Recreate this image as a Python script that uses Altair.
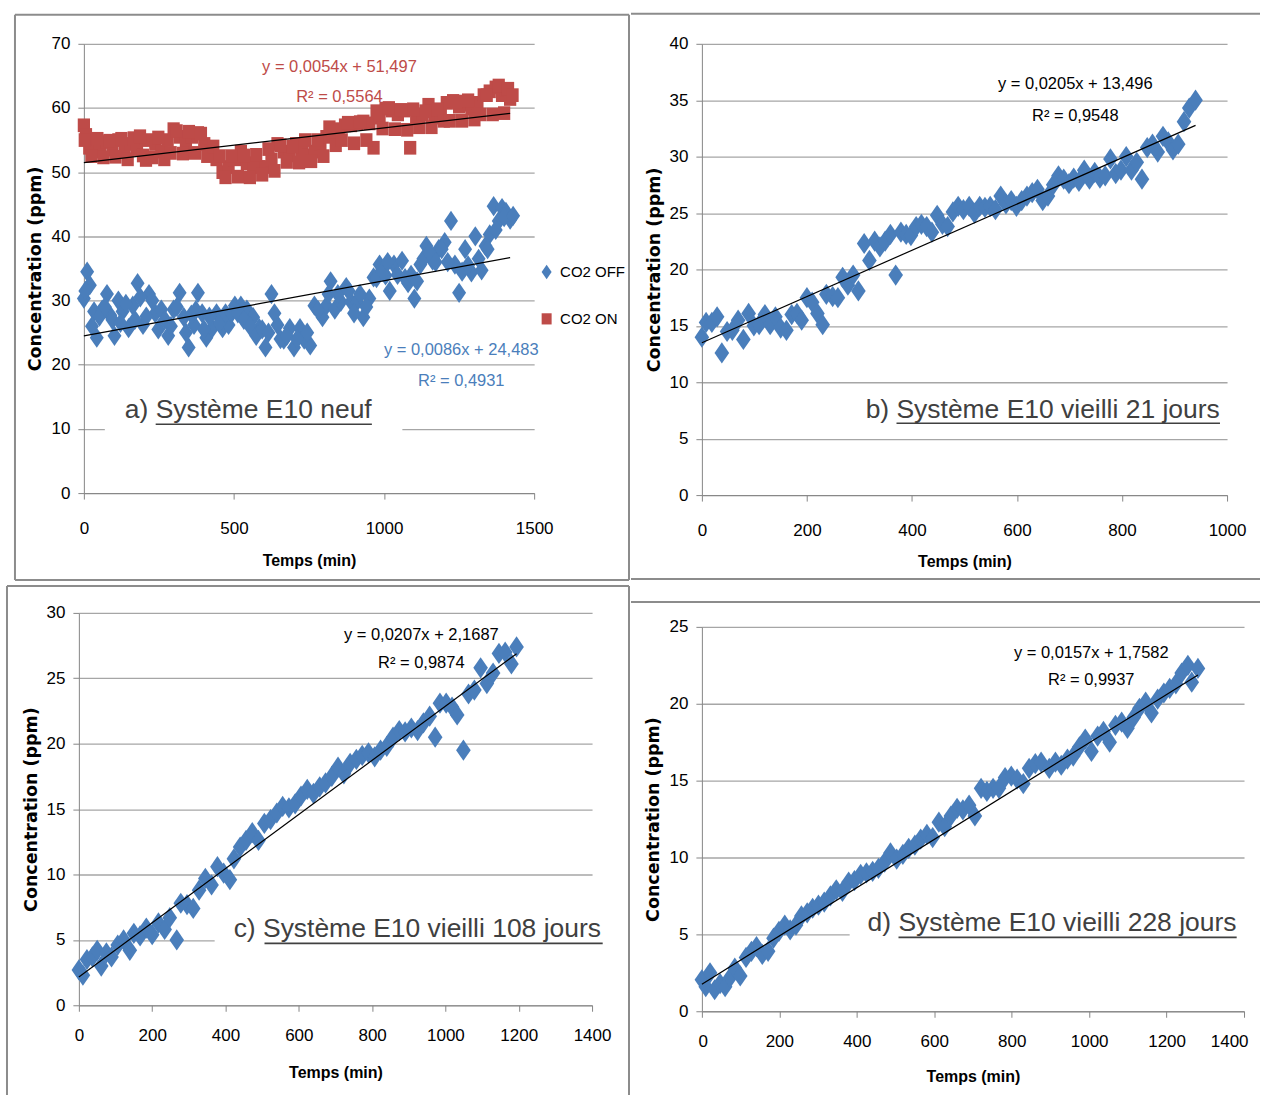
import altair as alt
import pandas as pd

# ---------------------------------------------------------------------------
# Measured concentrations (ppm) against time (min)
# ---------------------------------------------------------------------------
# a) new E10 system, CO2 OFF
a_off_t = [0, 11, 20, 34, 43, 61, 77, 88, 102, 115, 129, 149, 163, 179, 197,
           217, 238, 258, 281, 299, 319, 333, 349, 367, 380, 394, 408, 428,
           442, 462, 482, 503, 523, 543, 564, 584, 605, 625, 645, 666, 686,
           700, 720, 734, 754, 768, 795, 808, 822, 836, 856, 874, 890, 910,
           931, 951, 965, 985, 1005, 1019, 1033, 1060, 1080, 1101, 1121, 1141,
           1162, 1182, 1202, 1223, 1236, 1250, 1270, 1291, 1304, 1325, 1338,
           1352, 1365, 1382, 1393, 1406, 1420,
           5, 27, 52, 70, 95, 122, 140, 170, 188, 208, 228, 248, 270, 290, 310,
           340, 358, 373, 400, 418, 452, 472, 492, 513, 533, 553, 574, 594, 615,
           635, 655, 676, 710, 744, 780, 815, 846, 882, 900, 920, 941, 975, 995,
           1012, 1045, 1070, 1090, 1110, 1131, 1151, 1172, 1192, 1212, 1260,
           1280, 1315, 1345, 1372, 1400, 1430]
a_off_c = [30.3, 34.5, 32.4, 28.3, 24.2, 28.6, 31.0, 27.7, 24.5, 30.0, 28.3,
           25.7, 29.2, 32.7, 26.2, 31.0, 28.0, 28.6, 24.5, 28.6, 31.2, 27.4,
           22.7, 26.2, 31.2, 28.0, 24.2, 25.7, 28.0, 25.7, 26.2, 29.2, 29.2,
           28.6, 27.4, 25.7, 22.7, 31.0, 26.2, 23.9, 25.7, 22.7, 25.7, 23.9,
           23.0, 29.2, 27.4, 29.2, 33.0, 28.6, 29.8, 32.1, 29.8, 29.8, 27.4,
           30.3, 33.6, 35.6, 33.9, 31.5, 35.6, 36.2, 32.7, 30.3, 35.6, 38.5,
           36.2, 38.0, 39.1, 42.4, 35.6, 31.2, 38.0, 34.4, 40.0, 34.7, 38.5,
           40.3, 44.7, 42.4, 44.4, 43.8, 42.6,
           31.5, 26.0, 27.5, 29.0, 27.0, 26.5, 29.5, 27.0, 30.5, 27.5, 30.0,
           25.5, 27.0, 26.0, 29.0, 25.0, 27.8, 28.5, 25.5, 27.5, 26.5, 28.0,
           28.0, 28.0, 27.0, 26.0, 24.5, 25.5, 25.0, 28.0, 24.0, 24.5, 24.0,
           25.0, 28.5, 31.0, 31.0, 31.5, 28.0, 31.0, 29.0, 33.5, 34.5, 36.0,
           34.0, 33.5, 34.0, 33.0, 36.5, 37.5, 36.0, 38.0, 36.0, 34.5, 35.5,
           36.5, 38.0, 41.0, 43.0, 43.2]

# a) new E10 system, CO2 ON
a_on_t = [0, 7, 18, 34, 54, 75, 95, 115, 136, 156, 177, 197, 217, 238, 258,
          279, 299, 319, 340, 360, 380, 401, 421, 442, 462, 482, 503, 523,
          543, 564, 584, 605, 625, 645, 666, 686, 707, 727, 747, 768, 788,
          808, 829, 849, 870, 890, 910, 931, 951, 965, 985, 1005, 1026, 1046,
          1067, 1087, 1107, 1128, 1148, 1168, 1189, 1209, 1230, 1250, 1270,
          1291, 1311, 1332, 1352, 1372, 1393, 1406, 1420,
          3, 25, 45, 65, 85, 105, 125, 146, 166, 187, 207, 228, 248, 268, 289,
          309, 330, 350, 370, 390, 411, 431, 452, 472, 492, 513, 533, 553, 574,
          594, 615, 635, 655, 676, 696, 717, 737, 757, 778, 798, 818, 839, 859,
          880, 900, 920, 941, 975, 995, 1016, 1036, 1056, 1077, 1097, 1117,
          1138, 1158, 1178, 1199, 1219, 1240, 1260, 1280, 1301, 1321, 1342,
          1362, 1382, 1400, 1413, 1428]
a_on_c = [57.3, 55.8, 53.8, 53.2, 53.8, 54.7, 53.5, 55.0, 53.2, 54.4, 53.5,
          52.6, 55.0, 54.4, 53.2, 55.0, 56.7, 55.5, 54.4, 55.5, 56.1, 54.4,
          53.2, 52.0, 50.0, 50.8, 52.0, 53.2, 51.4, 50.8, 50.8, 50.8, 52.0,
          54.4, 53.2, 52.6, 54.4, 53.2, 52.6, 53.2, 54.4, 55.5, 56.1, 56.7,
          57.3, 57.3, 57.6, 57.9, 57.6, 53.8, 58.5, 59.9, 59.6, 59.0, 59.6,
          53.8, 58.5, 59.0, 60.5, 58.5, 59.0, 60.8, 61.1, 60.2, 60.5, 59.9,
          60.8, 62.0, 62.6, 63.2, 62.0, 62.9, 61.4,
          55.0, 52.5, 55.2, 52.3, 54.9, 52.4, 55.2, 52.0, 55.3, 55.6, 51.9,
          52.3, 55.4, 52.0, 53.0, 56.4, 52.9, 56.3, 53.0, 56.0, 52.5, 54.0,
          52.5, 49.2, 52.5, 49.3, 52.6, 49.2, 52.7, 49.6, 53.6, 50.2, 54.2,
          51.6, 54.0, 51.5, 55.0, 51.7, 55.0, 52.5, 57.0, 54.2, 55.0, 57.7,
          54.5, 57.8, 55.0, 59.5, 56.8, 60.0, 56.7, 59.7, 56.6, 59.8, 57.0,
          59.5, 57.0, 59.8, 58.0, 58.0, 61.0, 58.0, 61.2, 58.2, 59.0, 62.0,
          59.0, 63.5, 59.2, 63.0, 62.0]

# b) aged 21 days
b_t = [0, 8, 19, 29, 38, 48, 58, 69, 79, 89, 99, 109, 120, 130, 140, 150, 161,
       171, 181, 190, 200, 210, 220, 230, 237, 249, 259, 268, 278, 288, 298,
       309, 319, 329, 339, 349, 359, 369, 379, 389, 398, 408, 418, 428, 438,
       448, 458, 468, 478, 488, 498, 509, 519, 529, 539, 549, 559, 569, 579,
       589, 599, 609, 619, 629, 639, 649, 659, 669, 679, 689, 699, 708, 718,
       728, 738, 748, 758, 768, 778, 788, 798, 808, 818, 828, 838, 848, 858,
       868, 878, 888, 897, 907, 918, 928, 940]
b_c = [14.0, 15.3, 15.3, 15.8, 12.6, 14.5, 14.6, 15.5, 13.8, 16.1, 15.0, 15.1,
       16.0, 15.1, 15.8, 14.8, 14.6, 16.0, 16.1, 15.5, 17.5, 17.1, 16.1, 15.1,
       17.8, 17.6, 17.5, 19.3, 18.6, 19.5, 18.1, 22.3, 20.8, 22.5, 22.0, 22.5,
       23.1, 19.5, 23.3, 23.1, 23.0, 23.8, 24.0, 23.8, 23.3, 24.8, 24.0, 23.8,
       25.1, 25.6, 25.3, 25.6, 25.0, 25.6, 25.5, 25.6, 25.3, 26.5, 25.8, 26.1,
       25.6, 26.1, 26.5, 26.8, 27.1, 26.1, 26.5, 27.5, 28.3, 28.0, 27.6, 28.1,
       27.8, 28.8, 28.0, 28.6, 28.1, 28.3, 29.8, 28.5, 28.8, 30.0, 28.8, 29.5,
       28.0, 30.8, 31.1, 30.4, 31.8, 31.3, 30.6, 31.1, 33.1, 34.3, 35.0]

# c) aged 108 days
c_t = [0, 11, 22, 37, 50, 61, 75, 89, 106, 122, 139, 150, 167, 184, 200, 217,
       234, 248, 267, 278, 295, 312, 328, 345, 362, 378, 395, 412, 423, 440,
       456, 473, 490, 506, 523, 540, 556, 573, 590, 606, 623, 640, 657, 673,
       690, 707, 723, 740, 757, 773, 790, 807, 823, 840, 857, 874, 890, 907,
       924, 940, 957, 972, 985, 1002, 1018, 1032, 1049, 1063, 1079, 1096,
       1113, 1130, 1146, 1163, 1180, 1194]
c_c = [2.7, 2.3, 3.5, 3.7, 4.2, 3.0, 4.0, 3.7, 4.6, 5.0, 4.2, 5.5, 5.3, 5.9,
       5.4, 6.3, 5.8, 6.7, 5.0, 7.8, 7.7, 7.4, 8.8, 9.7, 9.2, 10.6, 10.1, 9.6,
       11.2, 12.1, 12.6, 13.2, 12.6, 13.9, 14.2, 14.7, 15.2, 15.1, 15.4, 16.0,
       16.5, 16.2, 16.7, 17.0, 17.5, 18.2, 17.7, 18.5, 18.8, 19.1, 19.3, 19.0,
       19.5, 19.8, 20.5, 21.0, 20.9, 21.2, 21.0, 21.6, 22.1, 20.5, 23.1, 23.1,
       22.8, 22.2, 19.5, 23.8, 24.1, 25.8, 24.6, 25.4, 26.9, 27.0, 26.1, 27.4]

# d) aged 228 days
d_t = [0, 10, 21, 33, 47, 60, 73, 85, 99, 114, 128, 141, 156, 171, 185, 199,
       214, 228, 243, 257, 272, 286, 301, 316, 332, 347, 363, 379, 394, 410,
       425, 441, 456, 472, 487, 503, 519, 534, 550, 565, 581, 596, 612, 627,
       643, 659, 674, 690, 705, 721, 736, 752, 767, 783, 799, 814, 830, 845,
       861, 876, 897, 913, 928, 944, 959, 975, 990, 1006, 1022, 1037, 1053,
       1068, 1084, 1099, 1115, 1130, 1146, 1161, 1177, 1193, 1208, 1224, 1239,
       1255, 1265, 1281]
d_c = [2.05, 1.6, 2.5, 1.4, 1.8, 1.6, 2.2, 2.8, 2.3, 3.5, 3.9, 4.2, 3.7, 3.9,
       4.75, 5.2, 5.6, 5.3, 5.6, 6.2, 6.4, 6.7, 6.9, 7.1, 7.5, 7.9, 7.8, 8.4,
       8.5, 8.9, 9.0, 9.1, 9.3, 9.7, 10.3, 9.9, 10.2, 10.6, 10.8, 11.2, 11.5,
       11.3, 12.3, 12.0, 12.7, 13.2, 13.1, 13.4, 12.7, 14.5, 14.3, 14.5, 14.5,
       15.2, 15.3, 15.1, 14.8, 15.8, 16.1, 16.2, 15.8, 16.2, 16.0, 16.4, 16.6,
       17.2, 17.7, 16.9, 17.9, 18.2, 17.5, 18.6, 18.8, 18.4, 19.1, 19.7, 20.1,
       19.4, 20.3, 20.7, 21.0, 21.3, 22.0, 22.5, 21.4, 22.3]

# Linear fits (slope, intercept, R²)
fit_a_on = (0.0054, 51.497, 0.5564)
fit_a_off = (0.0086, 24.483, 0.4931)
fit_b = (0.0205, 13.496, 0.9548)
fit_c = (0.0207, 2.1687, 0.9874)
fit_d = (0.0157, 1.7582, 0.9937)

series_names = ["CO2 OFF", "CO2 ON"]
panel_prefix = ["a) ", "b) ", "c) ", "d) "]
panel_names = ["Système E10 neuf", "Système E10 vieilli 21 jours",
               "Système E10 vieilli 108 jours", "Système E10 vieilli 228 jours"]

# ---------------------------------------------------------------------------
# Styling
# ---------------------------------------------------------------------------
BLUE = "#4A7EBB"
RED = "#BE4B48"
AX_GRAY = "#868686"
GRID_GRAY = "#A6A6A6"
BORDER_GRAY = "#8C8C8C"
LABEL_GRAY = "#404040"
SANS = "Liberation Sans, Arial, sans-serif"
DIAMOND = "M0,-1.45L1,0L0,1.45L-1,0Z"
SQUARE = "M-1,-1.12L1,-1.12L1,1.12L-1,1.12Z"
LABEL_SIZE = 26.5
# Arial advance widths (em) of the caption pieces, used to place the underline
PREFIX_EM = 1.167
NAME_EM = [8.171, 12.226, 12.782, 12.782]

ONE = pd.DataFrame({"k": [0]})


def fmt(x):
    return str(x).replace(".", ",")


def eq_lines(fit):
    slope, icpt, r2 = fit
    return f"y = {fmt(slope)}x + {fmt(icpt)}", f"R² = {fmt(r2)}"


def trend_df(fit, tmax):
    slope, icpt, _ = fit
    return pd.DataFrame({"t": [0, tmax], "v": [icpt, icpt + slope * tmax]})


def rule(x1, y1, x2, y2, color=BORDER_GRAY, width=2):
    return alt.Chart(ONE).mark_rule(color=color, strokeWidth=width).encode(
        x=alt.value(x1), y=alt.value(y1), x2=alt.value(x2), y2=alt.value(y2))


def cell(x1, y1, x2, y2):
    # invisible rectangle fixing the footprint of a panel in the layout
    return alt.Chart(ONE).mark_rect(opacity=0).encode(
        x=alt.value(x1), x2=alt.value(x2), y=alt.value(y1), y2=alt.value(y2))


def box(x1, y1, x2, y2):
    return alt.Chart(ONE).mark_rect(color="white").encode(
        x=alt.value(x1), x2=alt.value(x2), y=alt.value(y1), y2=alt.value(y2))


def label(x, y, s, **kw):
    return alt.Chart(ONE).mark_text(baseline="middle", **kw).encode(
        x=alt.value(x), y=alt.value(y), text=alt.value(s))


def equation(fit, cx, y1, y2, color):
    l1, l2 = eq_lines(fit)
    kw = dict(font=SANS, fontSize=16.5, color=color, align="center")
    return [label(cx, y1, l1, **kw), label(cx, y2, l2, **kw)]


def caption(i, x, y, y_line):
    start = x + PREFIX_EM * LABEL_SIZE
    end = start + NAME_EM[i] * LABEL_SIZE
    return [
        label(x, y, panel_prefix[i] + panel_names[i], font=SANS, fontSize=LABEL_SIZE,
              color=LABEL_GRAY, align="left"),
        rule(start, y_line, end, y_line, color=LABEL_GRAY, width=1.6),
    ]


def enc_x(xmax, xstep, pad, title_y, rng=None, **axis_kw):
    sc = dict(domain=[0, xmax], nice=False)
    if rng is not None:
        sc["range"] = rng
    return alt.X("t:Q", title="Temps (min)", scale=alt.Scale(**sc),
                 axis=alt.Axis(values=list(range(0, xmax + 1, xstep)), format="d",
                               labelPadding=pad, titleY=title_y, **axis_kw))


def enc_y(ymax, ystep, title_x, **axis_kw):
    return alt.Y("v:Q", title="Concentration (ppm)",
                 scale=alt.Scale(domain=[0, ymax], nice=False),
                 axis=alt.Axis(values=list(range(0, ymax + 1, ystep)), format="d",
                               titleX=title_x, **axis_kw))


def diamonds(df, X, Y):
    return alt.Chart(df).mark_point(shape=DIAMOND, filled=True, size=215,
                                    color=BLUE, opacity=1, strokeWidth=0).encode(x=X, y=Y)


def trend(fit, tmax, X, Y):
    return alt.Chart(trend_df(fit, tmax)).mark_line(
        color="black", strokeWidth=1.2).encode(x=X, y=Y)


# ---------------------------------------------------------------------------
# Panel a  (group origin 5 px left of the y axis)
# ---------------------------------------------------------------------------
Xa = enc_x(1500, 500, 29, 68, rng=[5, 456])
Ya = enc_y(70, 10, -48, offset=-5)
df_a = pd.concat([
    pd.DataFrame({"t": a_off_t, "v": a_off_c, "serie": series_names[0]}),
    pd.DataFrame({"t": a_on_t, "v": a_on_c, "serie": series_names[1]}),
])
leg = alt.Legend(title=None, orient="none", legendX=461, legendY=221,
                 symbolSize=100, labelFontSize=15, rowPadding=31, labelOffset=6,
                 symbolStrokeWidth=0)
col_a = alt.Color("serie:N", scale=alt.Scale(domain=series_names, range=[BLUE, RED]), legend=leg)
shp_a = alt.Shape("serie:N", scale=alt.Scale(domain=series_names, range=[DIAMOND, SQUARE]), legend=leg)
pts_off = alt.Chart(df_a).transform_filter(alt.datum.serie == series_names[0]).mark_point(
    filled=True, size=195, opacity=1, strokeWidth=0).encode(x=Xa, y=Ya, color=col_a, shape=shp_a)
pts_on = alt.Chart(df_a).transform_filter(alt.datum.serie == series_names[1]).mark_point(
    filled=True, size=150, opacity=1, strokeWidth=0).encode(x=Xa, y=Ya, color=col_a, shape=shp_a)

pa = alt.layer(
    cell(-79, -42, 552, 540),
    rule(-64, -29, 551, -29), rule(-64, -29, -64, 537),
    rule(551, -29, 551, 537), rule(-64, 537, 551, 537),
    pts_off, pts_on,
    trend(fit_a_off, max(a_off_t[:83]), Xa, Ya),
    trend(fit_a_on, max(a_on_t[:73]), Xa, Ya),
    *equation(fit_a_on, 261, 23, 53, RED),
    *equation(fit_a_off, 383, 307, 338, BLUE),
    box(26, 350, 324, 390),
    *caption(0, 46, 367, 381),
).properties(width=456, height=450)

# ---------------------------------------------------------------------------
# Panel c
# ---------------------------------------------------------------------------
Xc = enc_x(1400, 200, 24, 67)
Yc = enc_y(30, 5, -47)
pc = alt.layer(
    cell(-79, -30, 552, 483),
    rule(-72, -27, 551, -27), rule(-72, -27, -72, 483), rule(551, -27, 551, 483),
    diamonds(pd.DataFrame({"t": c_t, "v": c_c}), Xc, Yc),
    trend(fit_c, max(c_t), Xc, Yc),
    *equation(fit_c, 343, 22, 50, "black"),
    box(136, 298, 546, 338),
    *caption(2, 155, 317, 331),
).properties(width=514, height=393)

# ---------------------------------------------------------------------------
# Panel b
# ---------------------------------------------------------------------------
Xb = enc_x(1000, 200, 29, 67)
Yb = enc_y(40, 5, -47)
pb = alt.layer(
    cell(-71, -43, 559, 539),
    rule(-71, -30, 559, -30), rule(-71, 536, 559, 536),
    diamonds(pd.DataFrame({"t": b_t, "v": b_c}), Xb, Yb),
    trend(fit_b, max(b_t), Xb, Yb),
    *equation(fit_b, 374, 40, 72, "black"),
    box(145, 349, 551, 389),
    *caption(1, 164, 367, 380),
).properties(width=526, height=452)

# ---------------------------------------------------------------------------
# Panel d
# ---------------------------------------------------------------------------
Xd = enc_x(1400, 200, 24, 65, labelFlush=True, labelFlushOffset=4)
Yd = enc_y(25, 5, -48)
pd_ = alt.layer(
    cell(-71, -45, 559, 468),
    rule(-71, -25, 559, -25),
    diamonds(pd.DataFrame({"t": d_t, "v": d_c}), Xd, Yd),
    trend(fit_d, max(d_t), Xd, Yd),
    *equation(fit_d, 390, 26, 53, "black"),
    box(148, 278, 553, 318),
    *caption(3, 166, 297, 311),
).properties(width=543, height=385)

left = alt.vconcat(pa, pc, spacing=0, bounds="full")
right = alt.vconcat(pb, pd_, spacing=0, bounds="full")

chart = alt.hconcat(
    left, right, spacing=0, bounds="full", padding=0, background="white",
).configure_view(
    strokeWidth=0
).configure_axis(
    domainColor=AX_GRAY, domainWidth=1, tickColor=AX_GRAY, tickSize=6, tickWidth=1,
    labelFont=SANS, labelFontSize=17, labelColor="black", labelFlush=False,
    gridColor=GRID_GRAY, gridWidth=1.3, titleColor="black",
).configure_axisX(
    grid=False, labelBaseline="middle", titleFont=SANS, titleFontSize=16,
    titleFontWeight="bold", titleBaseline="middle",
).configure_axisY(
    grid=True, labelPadding=8, titleFont="DejaVu Sans", titleFontSize=17.5,
    titleFontWeight="bold", titleBaseline="middle", titleAngle=-90,
).configure_legend(
    labelFont=SANS, labelColor="black",
)

chart.save("out.html", embed_options={"renderer": "svg", "actions": False})
